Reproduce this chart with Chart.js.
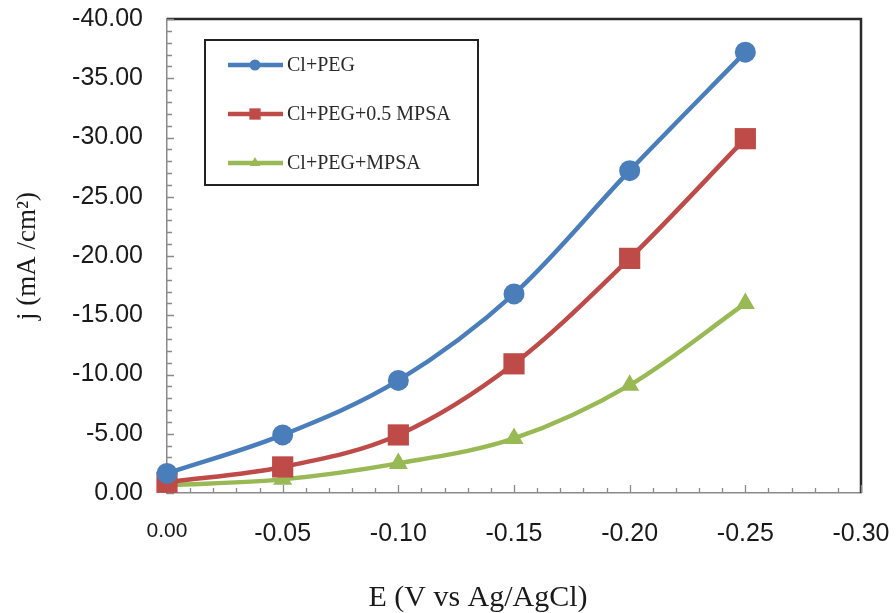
<!DOCTYPE html>
<html>
<head>
<meta charset="utf-8">
<script src="https://cdn.jsdelivr.net/npm/chart.js@4/dist/chart.umd.min.js"></script>
<style>
html,body{margin:0;padding:0;background:#fff;}
#wrap{width:896px;height:613px;}
</style>
</head>
<body>
<div id="wrap"><canvas id="c" width="896" height="613"></canvas></div>
<script>
// ---- data ----
const potentials = [0, -0.05, -0.10, -0.15, -0.20, -0.25];
const seriesNames = ['Cl+PEG', 'Cl+PEG+0.5 MPSA', 'Cl+PEG+MPSA'];
const clPeg = [-1.65, -4.9, -9.5, -16.8, -27.2, -37.2];
const clPegHalfMpsa = [-0.9, -2.2, -4.9, -10.9, -19.8, -29.9];
const clPegMpsa = [-0.65, -1.15, -2.5, -4.6, -9.1, -16.0];
const xTicks = [0, -0.05, -0.10, -0.15, -0.20, -0.25, -0.30];
const yTicks = [0, -5, -10, -15, -20, -25, -30, -35, -40];
const xTitle = 'E (V vs Ag/AgCl)';
const yTitle = 'j (mA /cm\u00B2)';

const colors = ['#4A7EBB', '#BE4B48', '#98B954'];
const styles = ['circle', 'rect', 'triangle'];
const radii = [10.5, 15, 11];
const legendRadii = [5.5, 8, 6];
const seriesValues = [clPeg, clPegHalfMpsa, clPegMpsa];

const datasets = seriesValues.map((vals, i) => ({
  label: seriesNames[i],
  data: potentials.map((x, k) => ({x: x, y: vals[k]})),
  borderColor: colors[i],
  backgroundColor: colors[i],
  borderWidth: 4.5,
  pointStyle: styles[i],
  pointRadius: radii[i],
  pointBorderWidth: 0,
  pointBackgroundColor: colors[i],
  cubicInterpolationMode: 'monotone',
  clip: false
}));

const frame = {
  id: 'frame',
  beforeDatasetsDraw(chart) {
    const {ctx, chartArea: a, scales} = chart;
    ctx.save();
    ctx.strokeStyle = '#2a2a2a';
    ctx.lineWidth = 2.5;
    ctx.beginPath();
    ctx.moveTo(a.left, a.top);
    ctx.lineTo(a.right, a.top);
    ctx.lineTo(a.right, a.bottom);
    ctx.stroke();
    ctx.strokeStyle = '#8a8a8a';
    ctx.lineWidth = 1.3;
    ctx.beginPath();
    for (let i = 0; i <= 40; i++) {
      const y = Math.round(scales.y.getPixelForValue(-i)) + 0.5;
      const len = (i % 5 === 0) ? 7 : 5;
      ctx.moveTo(a.left, y);
      ctx.lineTo(a.left + len, y);
    }
    for (let i = 0; i <= 30; i++) {
      const x = Math.round(scales.x.getPixelForValue(-i / 100)) + 0.5;
      const len = (i % 5 === 0) ? 8 : 5;
      ctx.moveTo(x, a.bottom);
      ctx.lineTo(x, a.bottom - len);
    }
    ctx.stroke();
    ctx.restore();
  },
  afterDraw(chart) {
    const {ctx, chartArea: a} = chart;
    ctx.save();
    ctx.fillStyle = '#1a1a1a';
    ctx.font = '30px "Liberation Serif", "Times New Roman", serif';
    ctx.textAlign = 'center';
    ctx.textBaseline = 'middle';
    ctx.fillText(xTitle, a.left + 311, 598);
    const bx = a.left + 38, by = a.top + 21, bw = 273, bh = 145;
    ctx.fillStyle = '#ffffff';
    ctx.fillRect(bx, by, bw, bh);
    ctx.strokeStyle = '#222';
    ctx.lineWidth = 2;
    ctx.strokeRect(bx, by, bw, bh);
    ctx.font = '20px "Liberation Serif", "Times New Roman", serif';
    ctx.textAlign = 'left';
    chart.data.datasets.forEach((ds, i) => {
      const y = by + 25 + i * 49;
      ctx.strokeStyle = ds.borderColor;
      ctx.lineWidth = 4.5;
      ctx.beginPath();
      ctx.moveTo(bx + 23, y);
      ctx.lineTo(bx + 78, y);
      ctx.stroke();
      ctx.fillStyle = ds.borderColor;
      Chart.helpers.drawPoint(ctx, {pointStyle: styles[i], radius: legendRadii[i], borderWidth: 0}, bx + 50, y);
      ctx.fillStyle = '#2a2a2a';
      ctx.fillText(ds.label, bx + 82, y + 1);
    });
    ctx.restore();
  }
};

function zeroPad(s) { s.paddingTop = 0; s.paddingBottom = 0; s.paddingLeft = 0; s.paddingRight = 0; }

new Chart(document.getElementById('c'), {
  type: 'line',
  data: {datasets: datasets},
  options: {
    responsive: false,
    animation: false,
    devicePixelRatio: 1,
    layout: {padding: {top: 19, right: 35, bottom: 0, left: 0}},
    plugins: {legend: {display: false}, tooltip: {enabled: false}},
    scales: {
      x: {
        type: 'linear',
        min: -0.3, max: 0,
        reverse: true,
        afterBuildTicks(s) { s.ticks = xTicks.map(v => ({value: v})); },
        afterFit(s) { s.height = 120; zeroPad(s); },
        grid: {display: false, drawTicks: false},
        border: {display: true, color: '#8a8a8a', width: 1.5},
        ticks: {
          padding: 26,
          color: '#1a1a1a',
          maxRotation: 0,
          autoSkip: false,
          font: (c) => (c.tick && c.tick.value === 0)
            ? {family: '"Liberation Sans", Arial, sans-serif', size: 21}
            : {family: '"Liberation Sans", Arial, sans-serif', size: 25},
          callback: (v) => Number(v).toFixed(2)
        },
        title: {display: false}
      },
      y: {
        type: 'linear',
        min: -40, max: 0,
        reverse: true,
        afterBuildTicks(s) { s.ticks = yTicks.map(v => ({value: v})); },
        afterFit(s) { s.width = 167; zeroPad(s); },
        grid: {display: false, drawTicks: false},
        border: {display: true, color: '#8a8a8a', width: 1.5},
        ticks: {
          padding: 24,
          color: '#1a1a1a',
          font: {family: '"Liberation Sans", Arial, sans-serif', size: 25},
          callback: (v) => Number(v).toFixed(2)
        },
        title: {
          display: true,
          text: yTitle,
          color: '#1a1a1a',
          font: {family: '"Liberation Serif", "Times New Roman", serif', size: 27},
          padding: {top: 12, bottom: 0}
        }
      }
    }
  },
  plugins: [frame]
});
</script>
</body>
</html>
